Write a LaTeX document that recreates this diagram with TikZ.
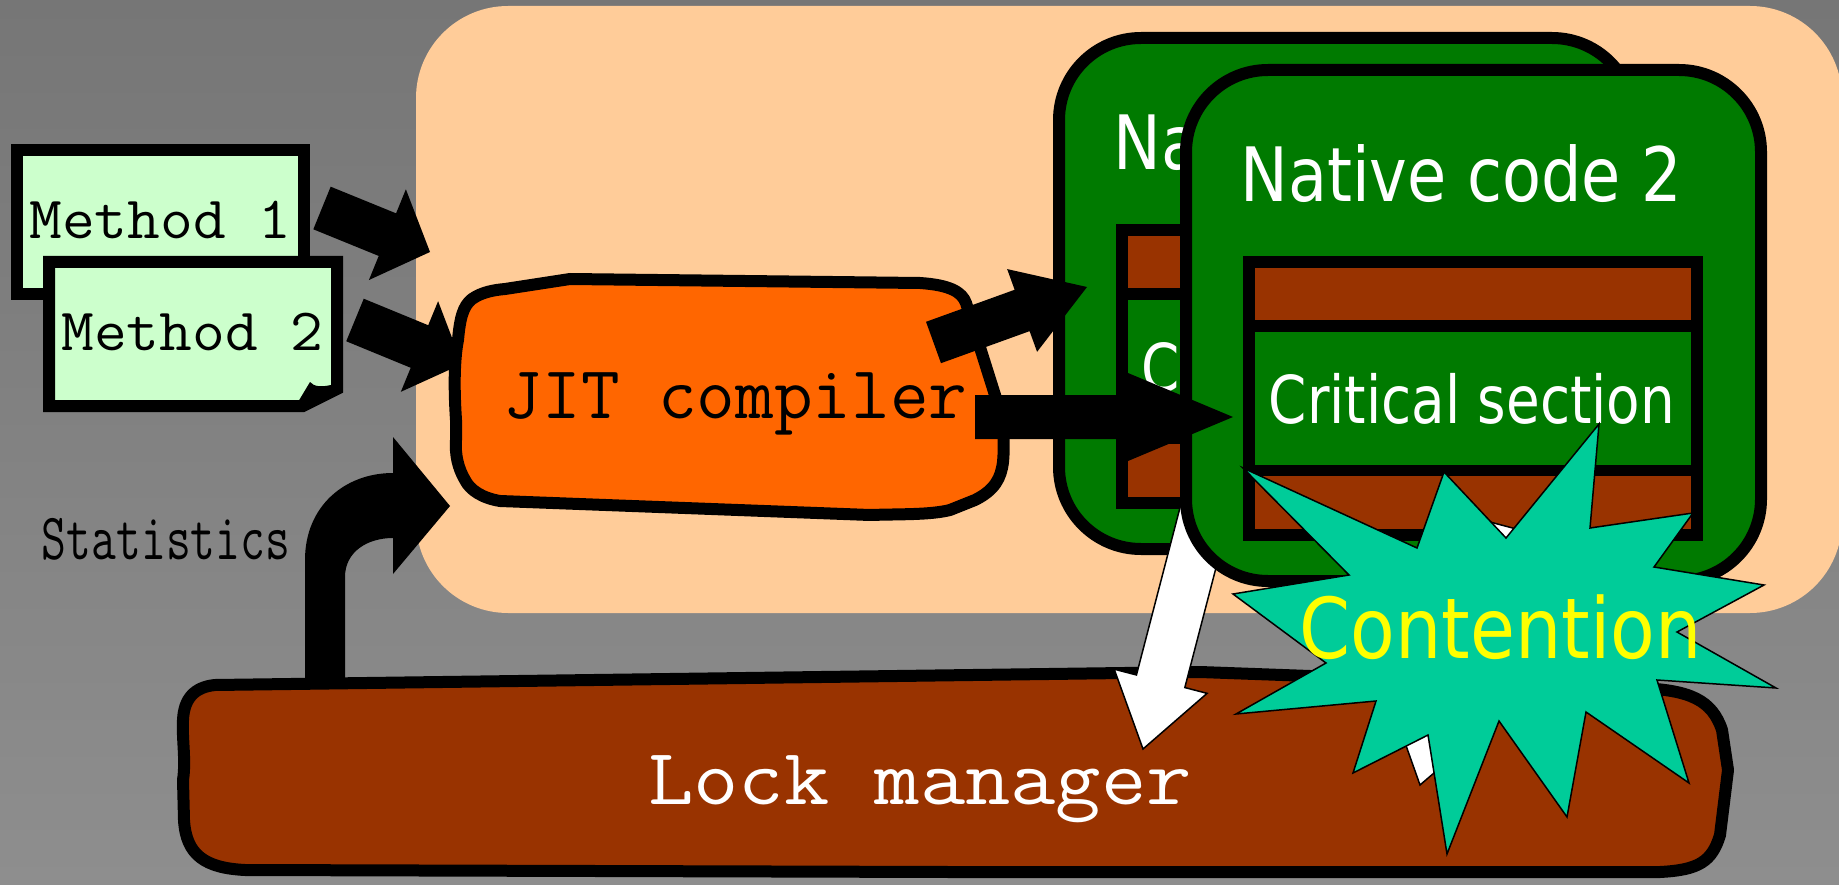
\documentclass[tikz,border=0pt]{standalone}
\usepackage{fontspec}
\usepackage{graphicx}
\usetikzlibrary{calc}
\newfontfamily\sansf{DejaVu Sans}
\definecolor{bgtop}{RGB}{118,118,118}
\definecolor{bgbot}{RGB}{142,142,142}
\definecolor{peach}{RGB}{255,204,153}
\definecolor{mgreen}{RGB}{204,255,204}
\definecolor{jitorange}{RGB}{255,102,0}
\definecolor{ncgreen}{RGB}{0,122,0}
\definecolor{lbrown}{RGB}{153,51,0}
\definecolor{burst}{RGB}{0,204,153}
\definecolor{cyellow}{RGB}{255,255,0}
\newcommand\blockarrow[6]{%
  \coordinate (ba-h) at ($(#3)!#6!(#2)$);
  \path[#1] ($(#2)!#4!90:(#3)$) -- ($(ba-h)!#4!90:(#3)$) -- ($(ba-h)!#5!90:(#3)$) -- (#3)
    -- ($(ba-h)!#5!-90:(#3)$) -- ($(ba-h)!#4!-90:(#3)$) -- ($(#2)!#4!-90:(#3)$) -- cycle;}
\tikzset{
  bord/.style={draw=black, line width=12pt, line join=round},
  txt/.style={inner sep=0pt, anchor=base},
  blackarrow/.style={fill=black},
  whitearrow/.style={fill=white, draw=black, line width=1.5pt, line join=miter},
  nativecode/.pic={
    \draw[bord, fill=ncgreen, rounded corners=82pt] (0,0) rectangle (575,511);
    \fill[black] (57,186) rectangle (517,471);
    \fill[lbrown] (69,198) rectangle (505,250);
    \fill[ncgreen] (69,262) rectangle (505,395);
    \fill[lbrown] (69,406) rectangle (505,459);
    \node[txt, text=white] (-title) at (275,132) {\sansf\fontsize{75}{75}\selectfont\scalebox{0.85}[1]{Native code #1}};
    \node[txt, text=white] (-crit) at (286,353) {\sansf\fontsize{66}{66}\selectfont\scalebox{0.83}[1]{Critical section}};
  }
}
\begin{document}
\begin{tikzpicture}[x=1pt,y=-1pt]
\useasboundingbox (0,0) rectangle (1839,885);
% background
\shade[top color=bgtop, bottom color=bgbot] (0,0) rectangle (1839,885);
% peach area
\fill[peach, rounded corners=92pt] (416,6) rectangle (1842,613);

% Method boxes
\draw[bord, line join=miter, fill=mgreen] (17,150) rectangle (304,294);
\node[txt] (m1) at (160.5,239) {\ttfamily\fontsize{60}{60}\selectfont\scalebox{1.06}[1]{Method 1}};
\draw[bord, line join=miter, fill=mgreen] (49,262) -- (337,262) -- (337,389) -- (303,406) -- (49,406) -- cycle;
\fill[black] (298,402) -- (310,382) .. controls (314,387) and (322,387) .. (331,385) -- (331,392) -- cycle;
\node[txt] (m2) at (192.5,350) {\ttfamily\fontsize{60}{60}\selectfont\scalebox{1.06}[1]{Method 2}};

% arrows methods -> JIT
\coordinate (a1s) at (322,208); \coordinate (a1e) at (430,252);
\coordinate (a2s) at (355,320); \coordinate (a2e) at (462,364);
\blockarrow{blackarrow}{a1s}{a1e}{23pt}{49pt}{46pt}
\blockarrow{blackarrow}{a2s}{a2e}{23pt}{49pt}{46pt}

% Statistics
\node[txt] (stat) at (166,559) {\ttfamily\fontsize{66}{66}\selectfont\scalebox{0.73}[1]{Statistics}};
\fill[black] (305,682) -- (305,560) .. controls (305,506) and (345,473) .. (393,473) -- (393,437) -- (450,506)
  -- (393,574) -- (393,538) .. controls (367,538) and (345,552) .. (345,577) -- (345,682) -- cycle;

% JIT compiler
\draw[bord, fill=jitorange] (505,289) -- (570,279) -- (920,283) .. controls (950,285) and (962,292) .. (966,303)
  -- (995,395) .. controls (1003,420) and (1005,440) .. (1003,462) .. controls (1001,478) and (995,490) .. (975,500)
  -- (950,510) .. controls (930,515) and (900,514) .. (870,515) -- (500,501) .. controls (482,498) and (470,490) .. (465,480)
  .. controls (458,468) and (455,455) .. (456,440) -- (456,420) .. controls (454,390) and (454,360) .. (458,340)
  .. controls (460,318) and (463,306) .. (472,299) .. controls (482,292) and (494,290) .. (505,289) -- cycle;
\node[txt] (jit) at (735.5,418) {\ttfamily\fontsize{75}{75}\selectfont\scalebox{1.0}[1]{JIT compiler}};

% Lock manager
\fill[black] (217,690) -- (1200,677) -- (1642,693) .. controls (1692,695) and (1714,705) .. (1724,735) -- (1730,775)
  -- (1722,840) .. controls (1714,867) and (1700,875) .. (1662,877) -- (950,877) -- (247,875)
  .. controls (207,873) and (188,860) .. (186,825) -- (185,785) .. controls (188,765) and (184,745) .. (185,725)
  .. controls (186,703) and (197,692) .. (217,690) -- cycle;
\draw[bord, fill=lbrown] (215,685) -- (1200,672) -- (1640,688) .. controls (1690,690) and (1712,700) .. (1722,730) -- (1728,770)
  -- (1720,835) .. controls (1712,862) and (1698,870) .. (1660,872) -- (950,872) -- (245,870)
  .. controls (205,868) and (186,855) .. (184,820) -- (183,780) .. controls (186,760) and (182,740) .. (183,720)
  .. controls (184,698) and (195,687) .. (215,685) -- cycle;
\node[txt, text=white] (lock) at (920,804) {\ttfamily\fontsize{80}{80}\selectfont\scalebox{1.1}[1]{Lock manager}};

% Native code 1
\pic (nc1) at (1059,38) {nativecode=1};
% JIT -> native code 1
\coordinate (a3s) at (933.5,342.5); \coordinate (a3e) at (1087,287);
\blockarrow{blackarrow}{a3s}{a3e}{22pt}{44pt}{69pt}
% white arrow A
\coordinate (w1s) at (1213,480); \coordinate (w1e) at (1143,749);
\blockarrow{whitearrow}{w1s}{w1e}{25pt}{48pt}{70pt}

% Native code 2
\pic (nc2) at (1186,70) {nativecode=2};
% JIT -> native code 2
\coordinate (a4s) at (975,417); \coordinate (a4e) at (1233,417);
\blockarrow{blackarrow}{a4s}{a4e}{22pt}{44pt}{105pt}
% white arrow B
\coordinate (w2s) at (1490,522); \coordinate (w2e) at (1420,785);
\blockarrow{whitearrow}{w2s}{w2e}{25pt}{48pt}{70pt}

% Contention burst
\draw[fill=burst, draw=black, line width=1.5pt, line join=miter]
  (1243,468) -- (1417,548) -- (1444,472) -- (1506,538) -- (1599,424) -- (1590,528) -- (1693,513)
  -- (1654,567) -- (1764,585) -- (1677,632) -- (1776,688) -- (1657,680) -- (1689,783) -- (1586,712)
  -- (1567,817) -- (1499,721) -- (1447,854) -- (1428,735) -- (1353,773) -- (1376,701) -- (1236,714)
  -- (1326,663) -- (1233,594) -- (1349,575) -- cycle;
\node[txt, text=cyellow] (cont) at (1500.5,658) {\sansf\fontsize{84}{84}\selectfont\scalebox{0.87}[1]{Contention}};
\end{tikzpicture}
\end{document}
